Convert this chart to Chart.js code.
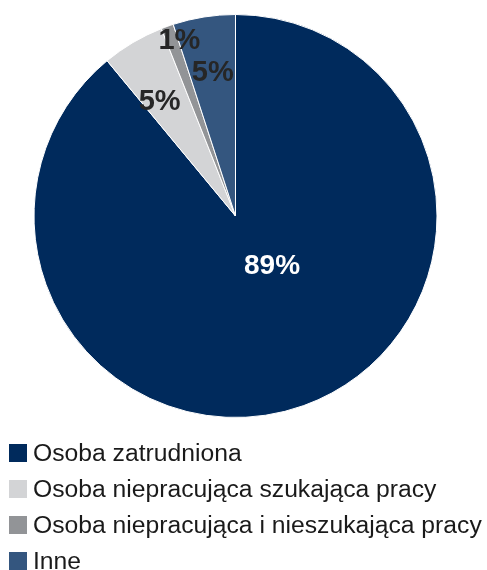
<!DOCTYPE html>
<html>
<head>
<meta charset="utf-8">
<script src="https://cdn.jsdelivr.net/npm/chart.js@4"></script>
<style>
  html, body { margin: 0; padding: 0; background: #ffffff; }
  #wrap { width: 487px; height: 570px; position: relative; }
</style>
</head>
<body>
<div id="wrap"><canvas id="pie"></canvas></div>
<script>
// Status of respondents, share in percent
const categories = [
  'Osoba zatrudniona',
  'Osoba niepracująca szukająca pracy',
  'Osoba niepracująca i nieszukająca pracy',
  'Inne'
];
const shares = [89, 5, 1, 5];
const sliceColors = ['#002a5c', '#d3d4d6', '#929497', '#34567f'];
const valueLabelColors = ['#ffffff', '#262626', '#262626', '#262626'];

// where each value label sits: fraction of radius, nudge in degrees from slice middle
const labelRadius = [0.31, 0.68, 0.91, 0.72];
const labelNudge = [-16, -3, 2, 0];

const FONT = '"Liberation Sans", Arial, sans-serif';

const valueLabels = {
  id: 'valueLabels',
  afterDatasetsDraw(chart) {
    const ctx = chart.ctx;
    const meta = chart.getDatasetMeta(0);
    ctx.save();
    ctx.textAlign = 'center';
    ctx.textBaseline = 'middle';
    meta.data.forEach((arc, i) => {
      const p = arc.getProps(['x', 'y', 'startAngle', 'endAngle', 'outerRadius'], true);
      const mid = (p.startAngle + p.endAngle) / 2 + labelNudge[i] * Math.PI / 180;
      const r = p.outerRadius * labelRadius[i];
      ctx.font = 'bold ' + (i === 0 ? 28 : 29) + 'px ' + FONT;
      ctx.fillStyle = valueLabelColors[i];
      ctx.fillText(shares[i] + '%', p.x + Math.cos(mid) * r, p.y + Math.sin(mid) * r);
    });
    ctx.restore();
  }
};

// legend list under the pie, one entry per row
const listLegend = {
  id: 'listLegend',
  afterDraw(chart) {
    const ctx = chart.ctx;
    const colors = chart.data.datasets[0].backgroundColor;
    ctx.save();
    ctx.font = '24.7px ' + FONT;
    ctx.textBaseline = 'middle';
    ctx.textAlign = 'left';
    chart.data.labels.forEach((label, i) => {
      const y = 453 + i * 36;
      ctx.fillStyle = colors[i];
      ctx.fillRect(9, y - 9, 18, 18);
      ctx.fillStyle = '#1a1a1a';
      ctx.fillText(label, 33, y + 1);
    });
    ctx.restore();
  }
};

new Chart(document.getElementById('pie'), {
  type: 'pie',
  data: {
    labels: categories,
    datasets: [{
      data: shares,
      backgroundColor: sliceColors,
      borderColor: '#ffffff',
      borderWidth: 1
    }]
  },
  options: {
    responsive: true,
    maintainAspectRatio: false,
    animation: false,
    layout: { padding: { top: 14, bottom: 152, left: 0, right: 16 } },
    plugins: {
      legend: { display: false },
      tooltip: { enabled: false }
    }
  },
  plugins: [valueLabels, listLegend]
});
</script>
</body>
</html>
